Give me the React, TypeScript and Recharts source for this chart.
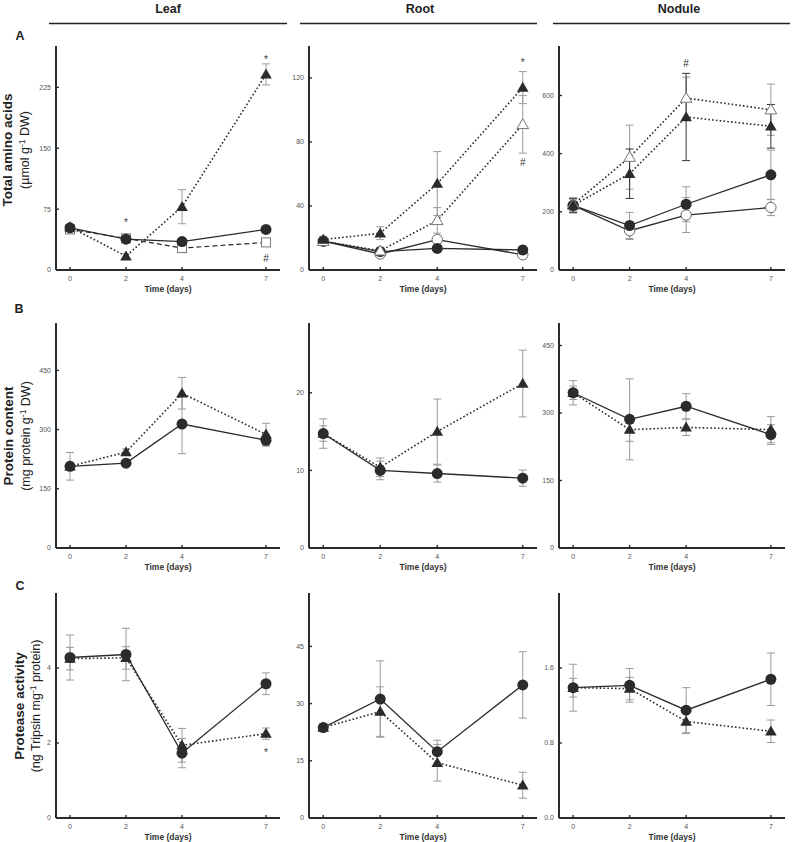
import { LineChart, Line, XAxis, YAxis, ErrorBar, ReferenceDot } from "recharts";

const days = [0, 2, 4, 7];

// A: total amino acids (µmol g-1 DW)
const aaLeafCircle = [52, 38, 35, 50];
const aaLeafCircleErr = [3, 3, 3, 3];
const aaLeafSquare = [50, 39, 27, 34];
const aaLeafSquareErr = [3, 3, 3, 3];
const aaLeafTriangle = [53, 17, 78, 241];
const aaLeafTriangleErr = [3, 3, 21, 13];

const aaRootTriangle = [19, 23, 54, 114];
const aaRootTriangleErr = [2, 4, 20, 10];
const aaRootOpenTriangle = [18, 12, 31, 91];
const aaRootOpenTriangleErr = [2, 2, 8, 18];
const aaRootCircle = [18, 11.5, 13.5, 12.5];
const aaRootCircleErr = [1, 1, 1, 1];
const aaRootOpenCircle = [18, 10, 19, 9.5];
const aaRootOpenCircleErr = [1, 1, 1, 1];

const aaNodTriangle = [222, 331, 526, 494];
const aaNodTriangleErr = [25, 85, 150, 75];
const aaNodOpenTriangle = [225, 388, 591, 551];
const aaNodOpenTriangleErr = [20, 110, 72, 88];
const aaNodCircle = [222, 153, 226, 327];
const aaNodCircleErr = [25, 45, 60, 85];
const aaNodOpenCircle = [222, 135, 189, 215];
const aaNodOpenCircleErr = [20, 30, 60, 28];

// B: protein content (mg protein g-1 DW)
const protLeafCircle = [207, 215, 314, 273];
const protLeafCircleErr = [35, 8, 75, 15];
const protLeafTriangle = [207, 243, 392, 288];
const protLeafTriangleErr = [10, 8, 40, 28];
const protRootCircle = [14.75, 10, 9.6, 9.0];
const protRootCircleErr = [1.9, 1.2, 1.1, 1.05];
const protRootTriangle = [14.75, 10.4, 15.0, 21.2];
const protRootTriangleErr = [1, 1.2, 4.2, 4.3];
const protNodCircle = [345, 286, 315, 252];
const protNodCircleErr = [27, 90, 28, 22];
const protNodTriangle = [345, 263, 268, 263];
const protNodTriangleErr = [15, 26, 18, 29];

// C: protease activity (ng Tripsin mg-1 protein)
const pLeafCircle = [4.28, 4.36, 1.73, 3.58];
const pLeafCircleErr = [0.6, 0.7, 0.39, 0.29];
const pLeafTriangle = [4.25, 4.27, 1.94, 2.25];
const pLeafTriangleErr = [0.3, 0.3, 0.45, 0.15];
const pRootCircle = [23.7, 31.2, 17.4, 34.9];
const pRootCircleErr = [1, 10, 3, 8.7];
const pRootTriangle = [23.7, 27.9, 14.5, 8.6];
const pRootTriangleErr = [1, 6.5, 4.8, 3.4];
const pNodCircle = [1.39, 1.415, 1.15, 1.48];
const pNodCircleErr = [0.25, 0.18, 0.24, 0.28];
const pNodTriangle = [1.39, 1.38, 1.03, 0.925];
const pNodTriangleErr = [0.1, 0.12, 0.13, 0.12];

const INK = "#2b2b2b";
const GREY = "#9a9a9a";
const FONT = "'Liberation Sans', Arial, Helvetica, sans-serif";

// plot-box geometry
const colLeft = [56, 309, 559];
const colWidth = [224, 228, 226];
const rowTop = [46, 323, 593];
const rowHeight = [224, 225, 225];
const YW = 30;
const TM = 6;
const RM = 6;
const XH = 24;

type Shape = "circle" | "openCircle" | "triangle" | "openTriangle" | "openSquare";
type LineKind = "solid" | "dotted" | "dashed";
type Series = {
  key: string;
  values: number[];
  errors: number[];
  shape: Shape;
  line: LineKind;
  errColor?: string;
};
type Mark = { day: number; value: number; text: string };

function Marker({ cx, cy, shape }: { cx?: number; cy?: number; shape: Shape }) {
  if (cx == null || cy == null) return null;
  switch (shape) {
    case "circle":
      return <circle cx={cx} cy={cy} r={5.5} fill={INK} />;
    case "openCircle":
      return <circle cx={cx} cy={cy} r={5.2} fill="#fff" stroke="#666" strokeWidth={1} />;
    case "triangle":
      return <path d={`M${cx},${cy - 5.8} L${cx + 5.8},${cy + 4.2} L${cx - 5.8},${cy + 4.2} Z`} fill={INK} />;
    case "openTriangle":
      return (
        <path
          d={`M${cx},${cy - 5.8} L${cx + 5.8},${cy + 4.2} L${cx - 5.8},${cy + 4.2} Z`}
          fill="#fff"
          stroke="#777"
          strokeWidth={1}
        />
      );
    default:
      return <rect x={cx - 4.5} y={cy - 4.5} width={9} height={9} fill="#fff" stroke="#777" strokeWidth={1} />;
  }
}

const lineStyle: Record<LineKind, { dash?: string; w: number }> = {
  solid: { w: 1.3 },
  dotted: { dash: "1.6 2.2", w: 1.6 },
  dashed: { dash: "5 3", w: 1.2 },
};

interface PanelProps {
  col: number;
  row: number;
  domain: [number, number];
  ticks: number[];
  fmt?: (v: number) => string;
  series: Series[];
  marks?: Mark[];
}

function Panel({ col, row, domain, ticks, fmt, series, marks = [] }: PanelProps) {
  const width = colWidth[col];
  const height = rowHeight[row];
  const data = days.map((d, i) => {
    const r: Record<string, number> = { day: d };
    series.forEach((s) => {
      r[s.key] = s.values[i];
      r[s.key + "Err"] = s.errors[i];
    });
    return r;
  });
  const axisLine = { stroke: INK, strokeWidth: 2 };
  const tickLine = { stroke: INK, strokeWidth: 1.4 };
  const tickStyle = { fontSize: 7, fill: "#555", fontFamily: FONT };
  const blank = () => "";
  return (
    <div style={{ position: "absolute", left: colLeft[col] - YW, top: rowTop[row] - TM }}>
      <LineChart
        width={YW + width + RM}
        height={TM + height + XH}
        data={data}
        margin={{ top: TM, right: RM, left: 0, bottom: 0 }}
      >
        <XAxis
          dataKey="day"
          type="number"
          domain={[-0.5, 7.5]}
          ticks={days}
          allowDataOverflow
          height={XH}
          axisLine={axisLine}
          tickLine={tickLine}
          tickSize={-3}
          tickMargin={9.5}
          tick={tickStyle}
          label={{
            value: "Time (days)",
            position: "insideBottom",
            offset: 2.3,
            style: { fontSize: 8.5, fontWeight: "bold", fill: "#333", fontFamily: FONT },
          }}
        />
        <XAxis
          xAxisId="top"
          orientation="top"
          dataKey="day"
          type="number"
          domain={[-0.5, 7.5]}
          ticks={days}
          allowDataOverflow
          height={0}
          axisLine={axisLine}
          tickLine={tickLine}
          tickSize={-3}
          tickFormatter={blank}
        />
        <YAxis
          type="number"
          domain={domain}
          ticks={ticks}
          allowDataOverflow
          width={YW}
          axisLine={axisLine}
          tickLine={tickLine}
          tickSize={-3}
          tickMargin={8}
          tick={tickStyle}
          tickFormatter={fmt}
        />
        <YAxis
          yAxisId="right"
          orientation="right"
          type="number"
          domain={domain}
          ticks={ticks}
          allowDataOverflow
          width={0}
          axisLine={axisLine}
          tickLine={tickLine}
          tickSize={-3}
          tickFormatter={blank}
        />
        {series.map((s) => (
          <Line
            key={s.key}
            dataKey={s.key}
            type="linear"
            stroke={INK}
            strokeWidth={lineStyle[s.line].w}
            strokeDasharray={lineStyle[s.line].dash}
            isAnimationActive={false}
            activeDot={false}
            dot={(p: any) => <Marker key={`${s.key}-${p.index}`} cx={p.cx} cy={p.cy} shape={s.shape} />}
          >
            <ErrorBar
              dataKey={s.key + "Err"}
              direction="y"
              width={4}
              stroke={s.errColor ?? GREY}
              strokeWidth={1}
              isAnimationActive={false}
            />
          </Line>
        ))}
        {marks.map((m, i) => (
          <ReferenceDot
            key={i}
            x={m.day}
            y={m.value}
            r={0}
            stroke="none"
            label={{ value: m.text, position: "center", fill: "#333", fontSize: 10, fontFamily: FONT }}
          />
        ))}
      </LineChart>
    </div>
  );
}

function YLabel({ x1, x2, cy, title, unitPre, unitPost }: { x1: number; x2: number; cy: number; title: string; unitPre: string; unitPost: string }) {
  return (
    <g fontFamily={FONT} fill="#222">
      <text transform={`translate(${x1},${cy}) rotate(-90)`} textAnchor="middle" fontSize={13.5} fontWeight="bold">
        {title}
      </text>
      <text transform={`translate(${x2},${cy}) rotate(-90)`} textAnchor="middle" fontSize={12.5}>
        {unitPre}
        <tspan dy={-4} fontSize={8.5}>
          -1
        </tspan>
        <tspan dy={4}>{unitPost}</tspan>
      </text>
    </g>
  );
}

export default function App() {
  return (
    <div style={{ position: "absolute", left: 0, top: 0, width: 800, height: 842, background: "#fff", overflow: "hidden" }}>
      <svg width={800} height={842} style={{ position: "absolute", left: 0, top: 0 }}>
        <g fontFamily={FONT} fontWeight="bold" fontSize={12.5} fill="#222" textAnchor="middle">
          <text x={168} y={13}>Leaf</text>
          <text x={420} y={13}>Root</text>
          <text x={679} y={13}>Nodule</text>
        </g>
        <g stroke="#222" strokeWidth={1.3}>
          <line x1={49} y1={23.5} x2={287} y2={23.5} />
          <line x1={300} y1={23.5} x2={537} y2={23.5} />
          <line x1={553} y1={23.5} x2={790} y2={23.5} />
        </g>
        <g fontFamily={FONT} fontWeight="bold" fontSize={12.5} fill="#222" textAnchor="middle">
          <text x={20} y={40}>A</text>
          <text x={19} y={313}>B</text>
          <text x={20} y={590}>C</text>
        </g>
        <YLabel x1={12} x2={29} cy={150} title="Total amino acids" unitPre="(µmol g" unitPost=" DW)" />
        <YLabel x1={13} x2={29.5} cy={436} title="Protein content" unitPre="(mg protein g" unitPost=" DW)" />
        <YLabel x1={24} x2={40} cy={706} title="Protease activity" unitPre="(ng Tripsin mg" unitPost=" protein)" />
      </svg>

      <Panel
        col={0}
        row={0}
        domain={[0, 276]}
        ticks={[0, 75, 150, 225]}
        series={[
          { key: "sq", values: aaLeafSquare, errors: aaLeafSquareErr, shape: "openSquare", line: "dashed" },
          { key: "ci", values: aaLeafCircle, errors: aaLeafCircleErr, shape: "circle", line: "solid" },
          { key: "tr", values: aaLeafTriangle, errors: aaLeafTriangleErr, shape: "triangle", line: "dotted" },
        ]}
        marks={[
          { day: 2, value: 58, text: "*" },
          { day: 7, value: 260, text: "*" },
          { day: 7, value: 14, text: "#" },
        ]}
      />
      <Panel
        col={1}
        row={0}
        domain={[0, 140]}
        ticks={[0, 40, 80, 120]}
        series={[
          { key: "oc", values: aaRootOpenCircle, errors: aaRootOpenCircleErr, shape: "openCircle", line: "solid" },
          { key: "ci", values: aaRootCircle, errors: aaRootCircleErr, shape: "circle", line: "solid" },
          { key: "ot", values: aaRootOpenTriangle, errors: aaRootOpenTriangleErr, shape: "openTriangle", line: "dotted" },
          { key: "tr", values: aaRootTriangle, errors: aaRootTriangleErr, shape: "triangle", line: "dotted" },
        ]}
        marks={[
          { day: 7, value: 130, text: "*" },
          { day: 7, value: 67, text: "#" },
        ]}
      />
      <Panel
        col={2}
        row={0}
        domain={[0, 770]}
        ticks={[0, 200, 400, 600]}
        series={[
          { key: "oc", values: aaNodOpenCircle, errors: aaNodOpenCircleErr, shape: "openCircle", line: "solid" },
          { key: "ci", values: aaNodCircle, errors: aaNodCircleErr, shape: "circle", line: "solid" },
          { key: "ot", values: aaNodOpenTriangle, errors: aaNodOpenTriangleErr, shape: "openTriangle", line: "dotted" },
          { key: "tr", values: aaNodTriangle, errors: aaNodTriangleErr, shape: "triangle", line: "dotted", errColor: "#333" },
        ]}
        marks={[{ day: 4, value: 710, text: "#" }]}
      />

      <Panel
        col={0}
        row={1}
        domain={[0, 570]}
        ticks={[0, 150, 300, 450]}
        series={[
          { key: "tr", values: protLeafTriangle, errors: protLeafTriangleErr, shape: "triangle", line: "dotted" },
          { key: "ci", values: protLeafCircle, errors: protLeafCircleErr, shape: "circle", line: "solid" },
        ]}
      />
      <Panel
        col={1}
        row={1}
        domain={[0, 29]}
        ticks={[0, 10, 20]}
        series={[
          { key: "tr", values: protRootTriangle, errors: protRootTriangleErr, shape: "triangle", line: "dotted" },
          { key: "ci", values: protRootCircle, errors: protRootCircleErr, shape: "circle", line: "solid" },
        ]}
      />
      <Panel
        col={2}
        row={1}
        domain={[0, 500]}
        ticks={[0, 150, 300, 450]}
        series={[
          { key: "tr", values: protNodTriangle, errors: protNodTriangleErr, shape: "triangle", line: "dotted" },
          { key: "ci", values: protNodCircle, errors: protNodCircleErr, shape: "circle", line: "solid" },
        ]}
      />

      <Panel
        col={0}
        row={2}
        domain={[0, 6]}
        ticks={[0, 2, 4]}
        series={[
          { key: "tr", values: pLeafTriangle, errors: pLeafTriangleErr, shape: "triangle", line: "dotted" },
          { key: "ci", values: pLeafCircle, errors: pLeafCircleErr, shape: "circle", line: "solid" },
        ]}
        marks={[{ day: 7, value: 1.75, text: "*" }]}
      />
      <Panel
        col={1}
        row={2}
        domain={[0, 59]}
        ticks={[0, 15, 30, 45]}
        series={[
          { key: "tr", values: pRootTriangle, errors: pRootTriangleErr, shape: "triangle", line: "dotted" },
          { key: "ci", values: pRootCircle, errors: pRootCircleErr, shape: "circle", line: "solid" },
        ]}
      />
      <Panel
        col={2}
        row={2}
        domain={[0, 2.4]}
        ticks={[0, 0.8, 1.6]}
        fmt={(v: number) => v.toFixed(1)}
        series={[
          { key: "tr", values: pNodTriangle, errors: pNodTriangleErr, shape: "triangle", line: "dotted" },
          { key: "ci", values: pNodCircle, errors: pNodCircleErr, shape: "circle", line: "solid" },
        ]}
      />
    </div>
  );
}
